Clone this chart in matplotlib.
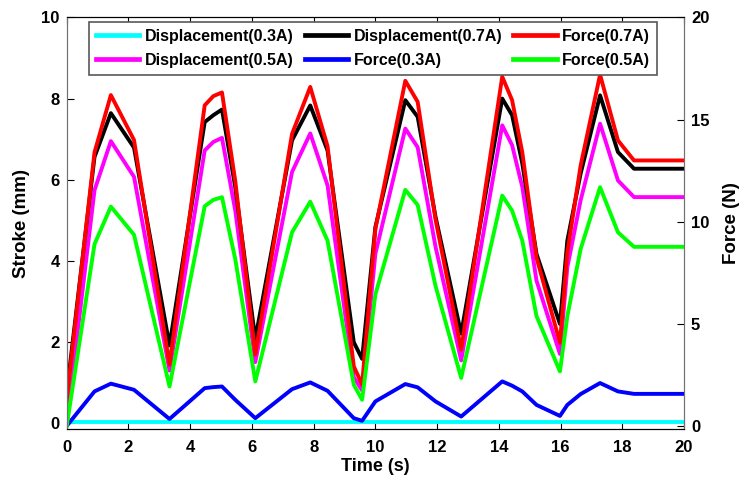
import matplotlib
matplotlib.use('Agg')
import matplotlib.pyplot as plt

plt.rcParams['font.family'] = ['Liberation Sans', 'DejaVu Sans']
plt.rcParams['font.weight'] = 'bold'

# time axis (s), shared by all series
t = [0, 0.9, 1.43, 2.18, 3.33, 4.47, 4.75, 5.03, 5.46, 6.11, 7.30, 7.89, 8.45,
     9.30, 9.57, 10.0, 10.97, 11.37, 11.95, 12.78, 14.11, 14.43, 14.76, 15.22,
     15.98, 16.22, 16.65, 17.28, 17.86, 18.38, 20.0]

# displacement (mm), left axis
disp_03 = [0.02] * len(t)
disp_05 = [0, 5.74, 6.95, 6.07, 1.29, 6.72, 6.93, 7.03, 5.24, 1.50, 6.19, 7.14, 5.86,
           1.13, 0.80, 4.17, 7.26, 6.80, 4.34, 1.54, 7.34, 6.85, 5.82, 3.51,
           1.70, 3.84, 5.49, 7.38, 5.98, 5.57, 5.57]
disp_07 = [0.75, 6.56, 7.64, 6.79, 1.91, 7.42, 7.59, 7.73, 5.82, 2.07, 6.97, 7.83, 6.72,
           1.99, 1.58, 4.83, 7.96, 7.55, 5.08, 2.20, 8.00, 7.59, 6.40, 4.17,
           2.44, 4.50, 6.15, 8.08, 6.68, 6.27, 6.27]

# force (N), right axis
force_03 = [0, 1.69, 2.07, 1.77, 0.34, 1.85, 1.90, 1.93, 1.28, 0.38, 1.80, 2.13, 1.72,
            0.38, 0.25, 1.20, 2.05, 1.89, 1.20, 0.46, 2.18, 1.97, 1.69, 1.03,
            0.49, 1.03, 1.56, 2.10, 1.69, 1.57, 1.57]
force_05 = [0, 8.90, 10.74, 9.36, 1.93, 10.76, 11.07, 11.20, 8.17, 2.18, 9.48, 10.98, 9.07,
            2.02, 1.28, 6.44, 11.56, 10.82, 6.85, 2.35, 11.28, 10.54, 9.07, 5.38,
            2.67, 5.38, 8.66, 11.69, 9.48, 8.77, 8.77]
force_07 = [1.3, 13.4, 16.2, 14.0, 3.00, 15.7, 16.15, 16.33, 12.0, 3.49, 14.3, 16.6, 13.7,
            2.92, 2.02, 9.64, 16.9, 15.87, 10.1, 3.74, 17.1, 15.95, 13.4, 8.25,
            4.07, 8.50, 12.75, 17.2, 13.98, 13.0, 13.0]

lw = 2.8
fig = plt.figure(figsize=(7.39, 4.86), dpi=100)
ax = fig.add_axes([0.0903, 0.1173, 0.8353, 0.8467])
ax2 = ax.twinx()

l1, = ax.plot(t, disp_03, color='#00FFFF', lw=lw, label='Displacement(0.3A)')
l2, = ax.plot(t, disp_05, color='#FF00FF', lw=lw, label='Displacement(0.5A)')
l3, = ax.plot(t, disp_07, color='black', lw=lw, label='Displacement(0.7A)')
l4, = ax2.plot(t, force_03, color='#0000FF', lw=lw, label='Force(0.3A)')
l5, = ax2.plot(t, force_07, color='#FF0000', lw=lw, label='Force(0.7A)')
l6, = ax2.plot(t, force_05, color='#00FF00', lw=lw, label='Force(0.5A)')

ax.set_xlim(0, 20)
ax.set_ylim(-0.15, 10)
ax2.set_ylim(-0.15, 20)
ax.set_xticks(range(0, 21, 2))
ax.set_yticks(range(0, 11, 2))
ax2.set_yticks(range(0, 21, 5))

ax.tick_params(axis='x', direction='in', top=True, length=5, labelsize=12, pad=8)
ax.tick_params(axis='y', direction='in', length=5, labelsize=12, pad=5)
ax2.tick_params(axis='y', direction='in', length=5, labelsize=12, pad=5)
for a in (ax, ax2):
    a.spines['left'].set_color('0.45')
    a.spines['right'].set_color('0.45')

ax.set_xlabel('Time (s)', fontsize=13, fontweight='bold', labelpad=2)
ax.set_ylabel('Stroke (mm)', fontsize=13.5, fontweight='bold', labelpad=8)
ax2.set_ylabel('Force (N)', fontsize=13.5, fontweight='bold', rotation=90, labelpad=10)

leg = ax2.legend(handles=[l1, l2, l3, l4, l5, l6], ncol=3, loc='upper center',
                 bbox_to_anchor=(0.4965, 0.99), fontsize=11.5, frameon=True,
                 fancybox=False, edgecolor='0.35', framealpha=1,
                 handlelength=2.7, handletextpad=0.35, columnspacing=0.7,
                 labelspacing=0.55, borderpad=0.45, borderaxespad=0)
leg.get_frame().set_linewidth(1.2)
for h in leg.get_lines():
    h.set_linewidth(3.4)

fig.savefig('out.png', dpi=100)
